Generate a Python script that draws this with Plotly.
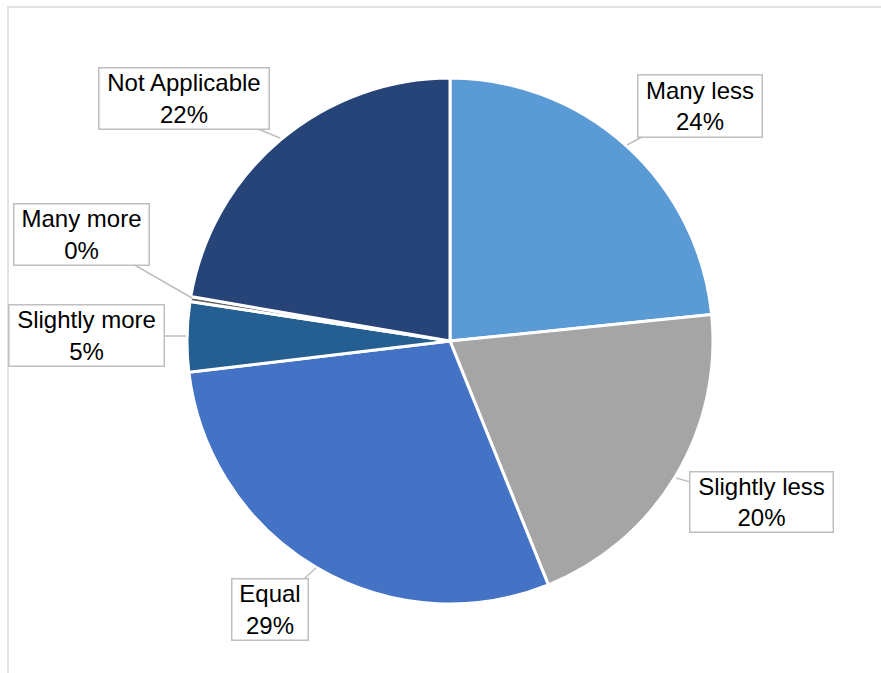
import plotly.graph_objects as go

categories = ["Many less", "Slightly less", "Equal", "Slightly more", "Many more", "Not Applicable"]
values = [23.4, 20.5, 29.2, 4.3, 0.3, 22.3]
colors = ["#5B9BD5", "#A5A5A5", "#4472C4", "#255E91", "#636363", "#264478"]
pct_labels = ["24%", "20%", "29%", "5%", "0%", "22%"]

W, H = 881, 673
cx, cy, R = 450, 341, 263

# callout boxes (pixel layout): left, top, right, bottom, tip_x, tip_y
boxes = {
    "Many less": (637, 74, 763, 138, 627, 145),
    "Slightly less": (689, 471, 834, 533, 676, 478),
    "Equal": (231, 578, 309, 641, 316, 568),
    "Slightly more": (8, 304, 165, 367, 186, 336),
    "Many more": (13, 203, 150, 266, 192, 298),
    "Not Applicable": (98, 67, 270, 130, 280, 138),
}

fig = go.Figure(go.Pie(
    labels=categories, values=values, sort=False, direction="clockwise",
    marker=dict(colors=colors, line=dict(color="white", width=3)),
    textinfo="none", hoverinfo="label+percent", showlegend=False,
    domain=dict(x=[(cx - R) / W, (cx + R) / W], y=[(H - cy - R) / H, (H - cy + R) / H]),
))

for cat, pct in zip(categories, pct_labels):
    l, t, r, b, tx, ty = boxes[cat]
    bxc, byc = (l + r) / 2, (t + b) / 2
    fig.add_annotation(
        x=tx / W, y=1 - ty / H, xref="paper", yref="paper",
        ax=bxc - tx, ay=byc - ty,
        text=f"{cat}<br>{pct}", showarrow=True, arrowhead=0, arrowwidth=1.5,
        arrowcolor="#BFBFBF", bordercolor="#BFBFBF", borderwidth=1.5, borderpad=0,
        bgcolor="white", width=r - l - 3, height=b - t - 3, align="center",
        font=dict(family="Liberation Sans, Arial", size=24, color="#000000"),
    )

fig.add_shape(type="rect", xref="paper", yref="paper",
              x0=8 / W, y0=-0.1, x1=1.1, y1=1 - 7 / H,
              line=dict(color="#D9D9D9", width=1.5), layer="below")

fig.update_layout(width=W, height=H, margin=dict(l=0, r=0, t=0, b=0),
                  paper_bgcolor="white", plot_bgcolor="white")
fig.write_html("out.html")
